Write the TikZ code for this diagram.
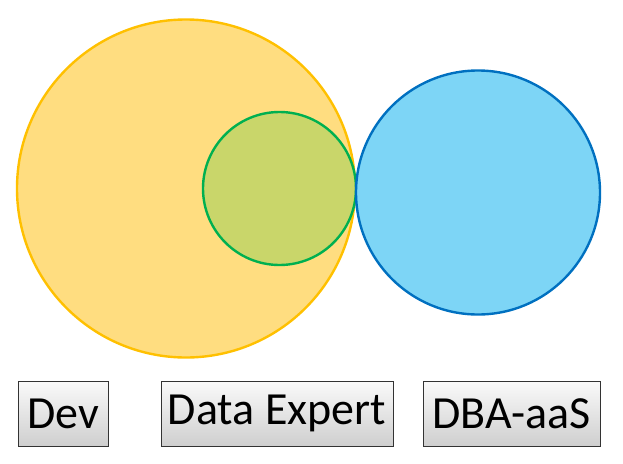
\documentclass[tikz,border=0pt]{standalone}
\usepackage{fontspec}
\setmainfont{Carlito}
\usepackage{xcolor}
\usepackage{tikz}

\definecolor{devfill}{HTML}{FFDD80}
\definecolor{devline}{HTML}{FFC000}
\definecolor{expfill}{HTML}{C9D66A}
\definecolor{expline}{HTML}{00B050}
\definecolor{dbafill}{HTML}{7DD5F6}
\definecolor{dbaline}{HTML}{0070C0}

\begin{document}
\begin{tikzpicture}[x=1pt,y=-1pt,
    blob/.style={circle, line width=2.4pt, inner sep=0pt},
    tag/.style={draw=black!80, line width=0.8pt, top color=gray!4, bottom color=gray!38,
      minimum height=65pt, inner sep=0pt, font=\fontsize{46}{52}\selectfont}]
    \useasboundingbox (0,0) rectangle (623,463);
    \node [blob, fill=devfill, draw=devline, minimum size=338pt] (devset) at (186,188.5) {};
    \node [blob, fill=expfill, draw=expline, minimum size=153pt] (expset) at (279.5,188.5) {};
    \node [blob, fill=dbafill, draw=dbaline, minimum size=244pt] (dbaset) at (478,192.5) {};
    \node [tag, minimum width=90pt]  (dev)    at (63,413.5)    {Dev};
    \node [tag, minimum width=232pt] (expert) at (277,413.5)   {Data Expert};
    \node [tag, minimum width=177pt] (dba)    at (511.5,413.5) {DBA-aaS};
\end{tikzpicture}
\end{document}
